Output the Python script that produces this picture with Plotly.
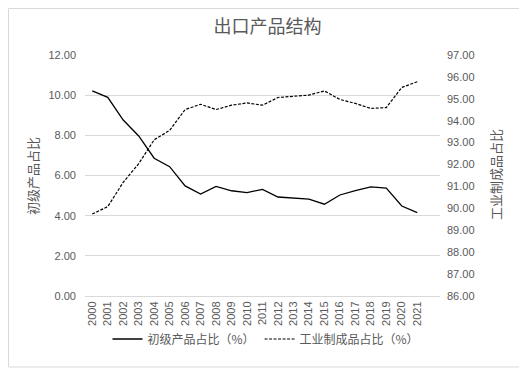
import plotly.graph_objects as go

years = [str(y) for y in range(2000, 2022)]
primary_share = [10.21, 9.89, 8.76, 7.97, 6.86, 6.44, 5.48, 5.08, 5.46, 5.24, 5.15,
                 5.31, 4.93, 4.87, 4.82, 4.57, 5.03, 5.25, 5.43, 5.37, 4.48, 4.15]
manuf_share = [89.74, 90.08, 91.19, 92.04, 93.13, 93.56, 94.51, 94.75, 94.51, 94.71, 94.81,
               94.71, 95.06, 95.10, 95.17, 95.36, 94.97, 94.79, 94.56, 94.60, 95.52, 95.78]
name_primary = "初级产品占比（%）"
name_manuf = "工业制成品占比（%）"
title_text = "出口产品结构"
left_title = "初级产品占比"
right_title = "工业制成品占比"

GRAY = "#595959"
CJK = "Noto Sans CJK SC"
NUM = "Liberation Sans"

# page body has an 8px default margin; work in page pixels and subtract it
O = 8
W, H = 527 - O, 371 - O
L, R, T, B = 85 - O, 440 - O, 55 - O, 296 - O

def px_x(p):
    return (p - O - L) / (R - L)

def px_y(p):
    return (B - (p - O)) / (B - T)

fig = go.Figure()
fig.add_trace(go.Scatter(x=years, y=primary_share, name=name_primary, mode="lines",
                         line=dict(color="#000000", width=1.3), yaxis="y"))
fig.add_trace(go.Scatter(x=years, y=manuf_share, name=name_manuf, mode="lines",
                         line=dict(color="#000000", width=1.2, dash="3px,1.5px"), yaxis="y2"))

fig.update_layout(
    width=W, height=H,
    margin=dict(l=L, r=W - R, t=T, b=H - B, autoexpand=False),
    paper_bgcolor="white", plot_bgcolor="white",
    title=dict(text=title_text, x=0.5, xanchor="center", y=1 - (27 - O) / H, yanchor="middle",
               font=dict(family=CJK, size=18, color=GRAY)),
    xaxis=dict(type="category", range=[-0.47, 22.47], showgrid=False,
               showline=True, linecolor="#d9d9d9", linewidth=1, ticks="",
               tickangle=-90, tickfont=dict(family=NUM, size=11, color=GRAY),
               zeroline=False, automargin=False),
    yaxis=dict(range=[0, 12], dtick=2, tickformat=".2f", showgrid=True,
               gridcolor="#d9d9d9", gridwidth=1, zeroline=False, showline=False,
               tickfont=dict(family=NUM, size=11, color=GRAY), ticklabelstandoff=8,
               automargin=False),
    yaxis2=dict(range=[86, 97], dtick=1, tickformat=".2f", overlaying="y", side="right",
                showgrid=False, zeroline=False, showline=False,
                tickfont=dict(family=NUM, size=11, color=GRAY), ticklabelstandoff=6,
                automargin=False),
    legend=dict(orientation="h", x=px_x(266), xanchor="center", y=px_y(339), yanchor="middle",
                font=dict(family=CJK, size=12, color=GRAY), bgcolor="rgba(0,0,0,0)",
                itemwidth=30, traceorder="normal"),
    annotations=[
        dict(text=left_title, xref="paper", yref="paper", x=px_x(32), y=px_y(176),
             xanchor="center", yanchor="middle", textangle=-90, showarrow=False,
             font=dict(family=CJK, size=13, color=GRAY)),
        dict(text=right_title, xref="paper", yref="paper", x=px_x(495), y=px_y(175),
             xanchor="center", yanchor="middle", textangle=-90, showarrow=False,
             font=dict(family=CJK, size=13, color=GRAY)),
    ],
    shapes=[dict(type="rect", xref="paper", yref="paper",
                 x0=px_x(O + 0.5), x1=px_x(520), y0=px_y(367), y1=px_y(O + 0.5),
                 line=dict(color="#d9d9d9", width=1), fillcolor="rgba(0,0,0,0)", layer="below")],
    showlegend=True,
)

fig.write_html("out.html")
